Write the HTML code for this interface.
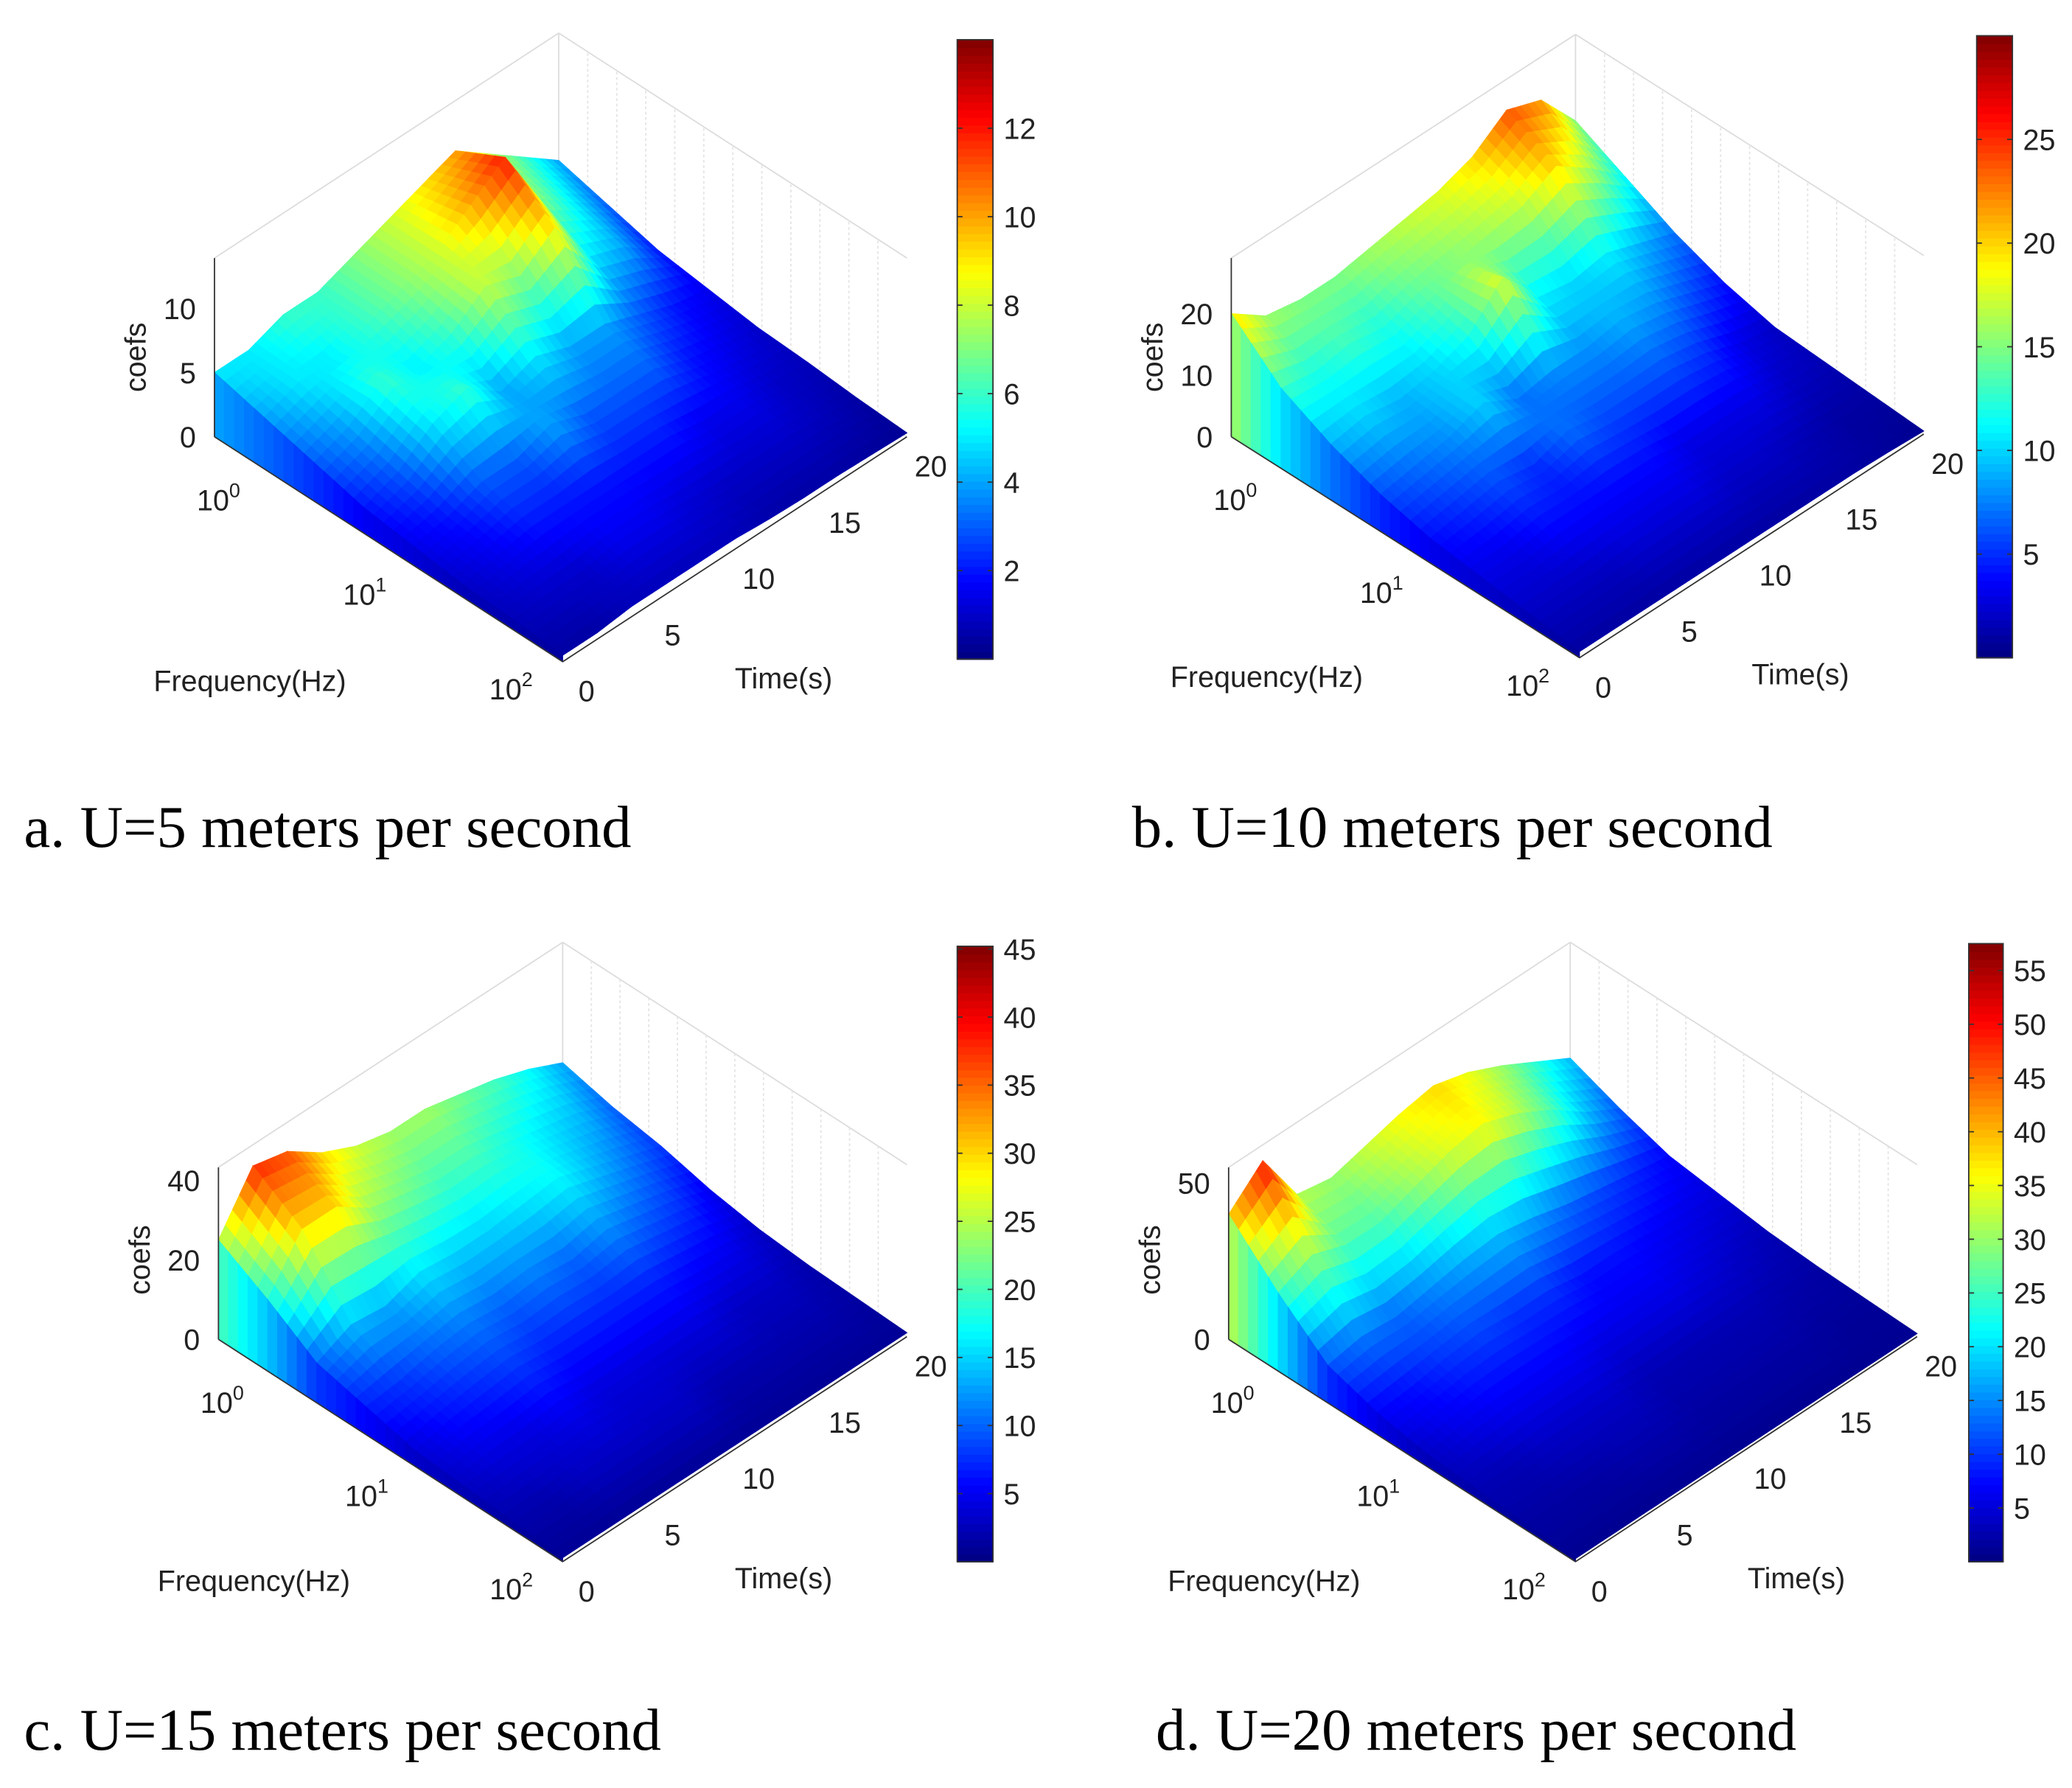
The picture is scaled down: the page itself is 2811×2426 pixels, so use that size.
<!DOCTYPE html>
<html><head><meta charset="utf-8"><style>
html,body{margin:0;padding:0;background:#fff}
svg{display:block}
text{font-family:"Liberation Sans",sans-serif;fill:#222}
.cap{font-family:"Liberation Serif",serif;font-size:45px;fill:#000}
</style></head><body>
<svg id="fig" width="2811" height="2426" viewBox="0 0 1565 1351" preserveAspectRatio="none" xmlns="http://www.w3.org/2000/svg">
<text class="cap" x="18" y="640">a. U=5 meters per second</text>
<text class="cap" x="855" y="640">b. U=10 meters per second</text>
<text class="cap" x="18" y="1322">c. U=15 meters per second</text>
<text class="cap" x="873" y="1322">d. U=20 meters per second</text>
</svg>
<script>
// ---- data (rows: frequency low->high, cols: time 0..20 s step 2) ----
const timeTicks=[0,5,10,15,20];
const freqTickExp=[0,1,2];
const dataA=[
[5,5,6,6,7,8,9,10,8,6,4],
[4,5,5,6,7,8,10,12,7,5,3],
[3,4,6,5,6,8,7,9,5,4,2],
[2,3,5,6,4,5,4,4,3,2,1.5],
[1.5,2,3,3,4,3,3,3,2,1.5,1],
[1,1.5,2,2,2,2,2,1.5,1.5,1,0.8],
[0.8,1,1,1.5,1.5,1.2,1,1,1,0.8,0.5],
[0.5,0.5,0.8,0.8,0.8,0.8,0.6,0.5,0.5,0.4,0.3]];
const dataB=[
[20,16,15,15,16,17,18,20,24,22,15],
[13,12,13,12,14,15,16,17,20,16,11],
[9,10,9,10,12,18,11,10,11,9,7],
[6,7,8,10,7,8,8,9,8,6,4],
[4,5,6,5,7,6,6,6,5,3,2],
[3,3,4,4,4,4,3,3,3,2,1.5],
[2,2,2,2.5,2.5,2.5,2,2,1.5,1,1],
[1,1,1,1,1,1,1,1,1,0.8,0.5]];
const dataC=[
[25,38,36,30,26,24,24,22,20,17,13],
[18,30,30,24,22,20,20,18,16,14,10],
[10,14,13,16,15,15,16,17,14,11,8],
[7,8,10,11,10,11,10,12,10,8,5],
[4,6,7,8,7,7,7,7,6,5,3],
[3,4,4,5,4,4,4,4,3,3,2],
[2,2,3,3,3,3,2,2,2,2,1.5],
[1,1,1,1,1,1,1,1,1,1,1]];
const dataD=[
[40,50,32,30,33,36,38,35,30,24,18],
[25,30,26,26,30,34,36,32,26,18,12],
[12,14,13,15,17,18,16,13,11,9,7],
[7,8,10,11,10,10,8,8,7,6,5],
[4,6,7,7,7,6,6,6,5,4,3],
[3,3,4,4,4,3,3,3,3,2.5,2],
[2,2,2,2.5,2.5,2,2,2,2,1.5,1.5],
[1,1,1,1,1,1,1,1,1,1,1]];
const zTicksA=[0,5,10],zTicksB=[0,10,20],zTicksC=[0,20,40],zTicksD=[0,50];
const cbTicksA=[2,4,6,8,10,12],cbTicksB=[5,10,15,20,25],cbTicksC=[5,10,15,20,25,30,35,40,45],cbTicksD=[5,10,15,20,25,30,35,40,45,50,55];

const NS="http://www.w3.org/2000/svg";
const svg=document.getElementById('fig');
function mk(tag,attrs,parent){const e=document.createElementNS(NS,tag);for(const k in attrs)e.setAttribute(k,attrs[k]);(parent||svg).appendChild(e);return e;}
function jet(v){v=Math.max(0,Math.min(1,v));
 const r=Math.max(0,Math.min(1,1.5-Math.abs(4*v-3))),g=Math.max(0,Math.min(1,1.5-Math.abs(4*v-2))),b=Math.max(0,Math.min(1,1.5-Math.abs(4*v-1)));
 return `rgb(${Math.round(r*255)},${Math.round(g*255)},${Math.round(b*255)})`;}

function panel(id,data,zTicks,cbTicks,geo){
 const g=mk('g',{});
 
 
 const {L,F,R,zs,cmax,cb,zTop}=geo;
 const P=(fu,tu,z)=>[L[0]+fu*(F[0]-L[0])+tu*(R[0]-F[0]), L[1]+fu*(F[1]-L[1])+tu*(R[1]-F[1])-z*zs];
 const B=P(0,1,0);
 const gl='#dcdcdc';
 mk('line',{x1:B[0],y1:B[1],x2:B[0],y2:B[1]-zTop,stroke:gl,'stroke-width':1},g);
 mk('line',{x1:L[0],y1:L[1],x2:B[0],y2:B[1],stroke:gl},g);
 mk('line',{x1:R[0],y1:R[1],x2:B[0],y2:B[1],stroke:gl},g);
 mk('line',{x1:L[0],y1:L[1]-zTop,x2:B[0],y2:B[1]-zTop,stroke:gl},g);
 mk('line',{x1:R[0],y1:R[1]-zTop,x2:B[0],y2:B[1]-zTop,stroke:gl},g);
 for(let k=1;k<12;k++){const x=B[0]+k*(R[0]-B[0])/12;const y=B[1]+k*(R[1]-B[1])/12;
  mk('line',{x1:x,y1:y,x2:x,y2:y-zTop,stroke:'#e4e4e4','stroke-dasharray':'2,2'},g);}
 const nr=data.length,nc=data[0].length,S=5;
 const val=(fu,tu)=>{const fi=fu*(nr-1),ti=tu*(nc-1);const i0=Math.min(nr-2,Math.floor(fi)),j0=Math.min(nc-2,Math.floor(ti));const a=fi-i0,b=ti-j0;
  return data[i0][j0]*(1-a)*(1-b)+data[i0+1][j0]*a*(1-b)+data[i0][j0+1]*(1-a)*b+data[i0+1][j0+1]*a*b;};
 const NR=(nr-1)*S,NC=(nc-1)*S;const quads=[];
 for(let i=0;i<NR;i++)for(let j=0;j<NC;j++){const f0=i/NR,f1=(i+1)/NR,t0=j/NC,t1=(j+1)/NC;
  const v=[val(f0,t0),val(f1,t0),val(f1,t1),val(f0,t1)];
  quads.push({d:(f0+f1)/2+1-(t0+t1)/2,pts:[P(f0,t0,v[0]),P(f1,t0,v[1]),P(f1,t1,v[2]),P(f0,t1,v[3])],c:(v[0]+v[1]+v[2]+v[3])/4});}
 quads.sort((a,b)=>a.d-b.d);
 const sg=mk('g',{},g);
 
 
 for(const q of quads){const col=jet(q.c/cmax);
  mk('polygon',{points:q.pts.map(p=>p.join(',')).join(' '),fill:col,stroke:col,'stroke-width':0.6},sg);}
 for(let i=0;i<NR;i++){const f0=i/NR,f1=(i+1)/NR;const v0=val(f0,0),v1=val(f1,0);const col=jet((v0+v1)/2/cmax*0.8);
  const pts=[P(f0,0,v0),P(f1,0,v1),P(f1,0,0),P(f0,0,0)];
  mk('polygon',{points:pts.map(p=>p.join(',')).join(' '),fill:col,stroke:col,'stroke-width':0.6},sg);}
 mk('line',{x1:L[0],y1:L[1],x2:F[0],y2:F[1],stroke:'#333'},g);
 mk('line',{x1:F[0],y1:F[1],x2:R[0],y2:R[1],stroke:'#333'},g);
 mk('line',{x1:L[0],y1:L[1],x2:L[0],y2:L[1]-zTop,stroke:'#333'},g);
 for(const z of zTicks){const y=L[1]-z*zs;const t=mk('text',{x:L[0]-14,y:y+8,'font-size':22,'text-anchor':'end'},g);t.textContent=z;
  }
 const zl=mk('text',{x:0,y:0,'font-size':22,'text-anchor':'middle',transform:`translate(${L[0]-52},${L[1]-60}) rotate(-90)`},g);zl.textContent='coefs';
 
 for(const t of timeTicks){const p=P(1,t/20,0);const e=mk('text',{x:p[0]+18,y:p[1]+30,'font-size':22,'text-anchor':'middle'},g);e.textContent=t;
  }
 const fpos=[0.08,0.5,0.92];
 freqTickExp.forEach((ex,k)=>{const p=P(fpos[k],0,0);const e=mk('text',{x:p[0]-18,y:p[1]+42,'font-size':22,'text-anchor':'middle'},g);
  e.innerHTML='10<tspan dy="-10" font-size="15">'+ex+'</tspan>';
  });
 const fl=mk('text',{x:L[0]-46,y:F[1]+22,'font-size':22},g);fl.textContent='Frequency(Hz)';
 
 const tl=mk('text',{x:F[0]+130,y:F[1]+20,'font-size':22},g);tl.textContent='Time(s)';
 
 const cg=mk('g',{},g);
 const n=80;const h=(cb.y1-cb.y0)/n;
 for(let k=0;k<n;k++){mk('rect',{x:cb.x,y:cb.y1-(k+1)*h,width:cb.w,height:h+0.6,fill:jet((k+0.5)/n)},cg);}
 mk('rect',{x:cb.x,y:cb.y0,width:cb.w,height:cb.y1-cb.y0,fill:'none',stroke:'#333'},cg);
 for(const t of cbTicks){const y=cb.y1-t/cmax*(cb.y1-cb.y0);
  mk('line',{x1:cb.x,y1:y,x2:cb.x+4,y2:y,stroke:'#333'},cg);mk('line',{x1:cb.x+cb.w-4,y1:y,x2:cb.x+cb.w,y2:y,stroke:'#333'},cg);
  const e=mk('text',{x:cb.x+cb.w+8,y:y+8,'font-size':22},cg);e.textContent=t;
  }
}
panel('a',dataA,zTicksA,cbTicksA,{L:[162,330],F:[425,500],R:[685,330],zs:9.7,cmax:14,zTop:135,cb:{x:723,w:27,y0:30,y1:498}});
panel('b',dataB,zTicksB,cbTicksB,{L:[930,330],F:[1193,497],R:[1453,328],zs:4.65,cmax:30,zTop:135,cb:{x:1493,w:27,y0:27,y1:497}});
panel('c',dataC,zTicksC,cbTicksC,{L:[165,1012],F:[425,1180],R:[685,1010],zs:3,cmax:45.2,zTop:130,cb:{x:723,w:27,y0:715,y1:1180}});
panel('d',dataD,zTicksD,cbTicksD,{L:[928,1012],F:[1190,1180],R:[1448,1010],zs:2.36,cmax:57.5,zTop:130,cb:{x:1487,w:26,y0:713,y1:1180}});
</script>
</body></html>
